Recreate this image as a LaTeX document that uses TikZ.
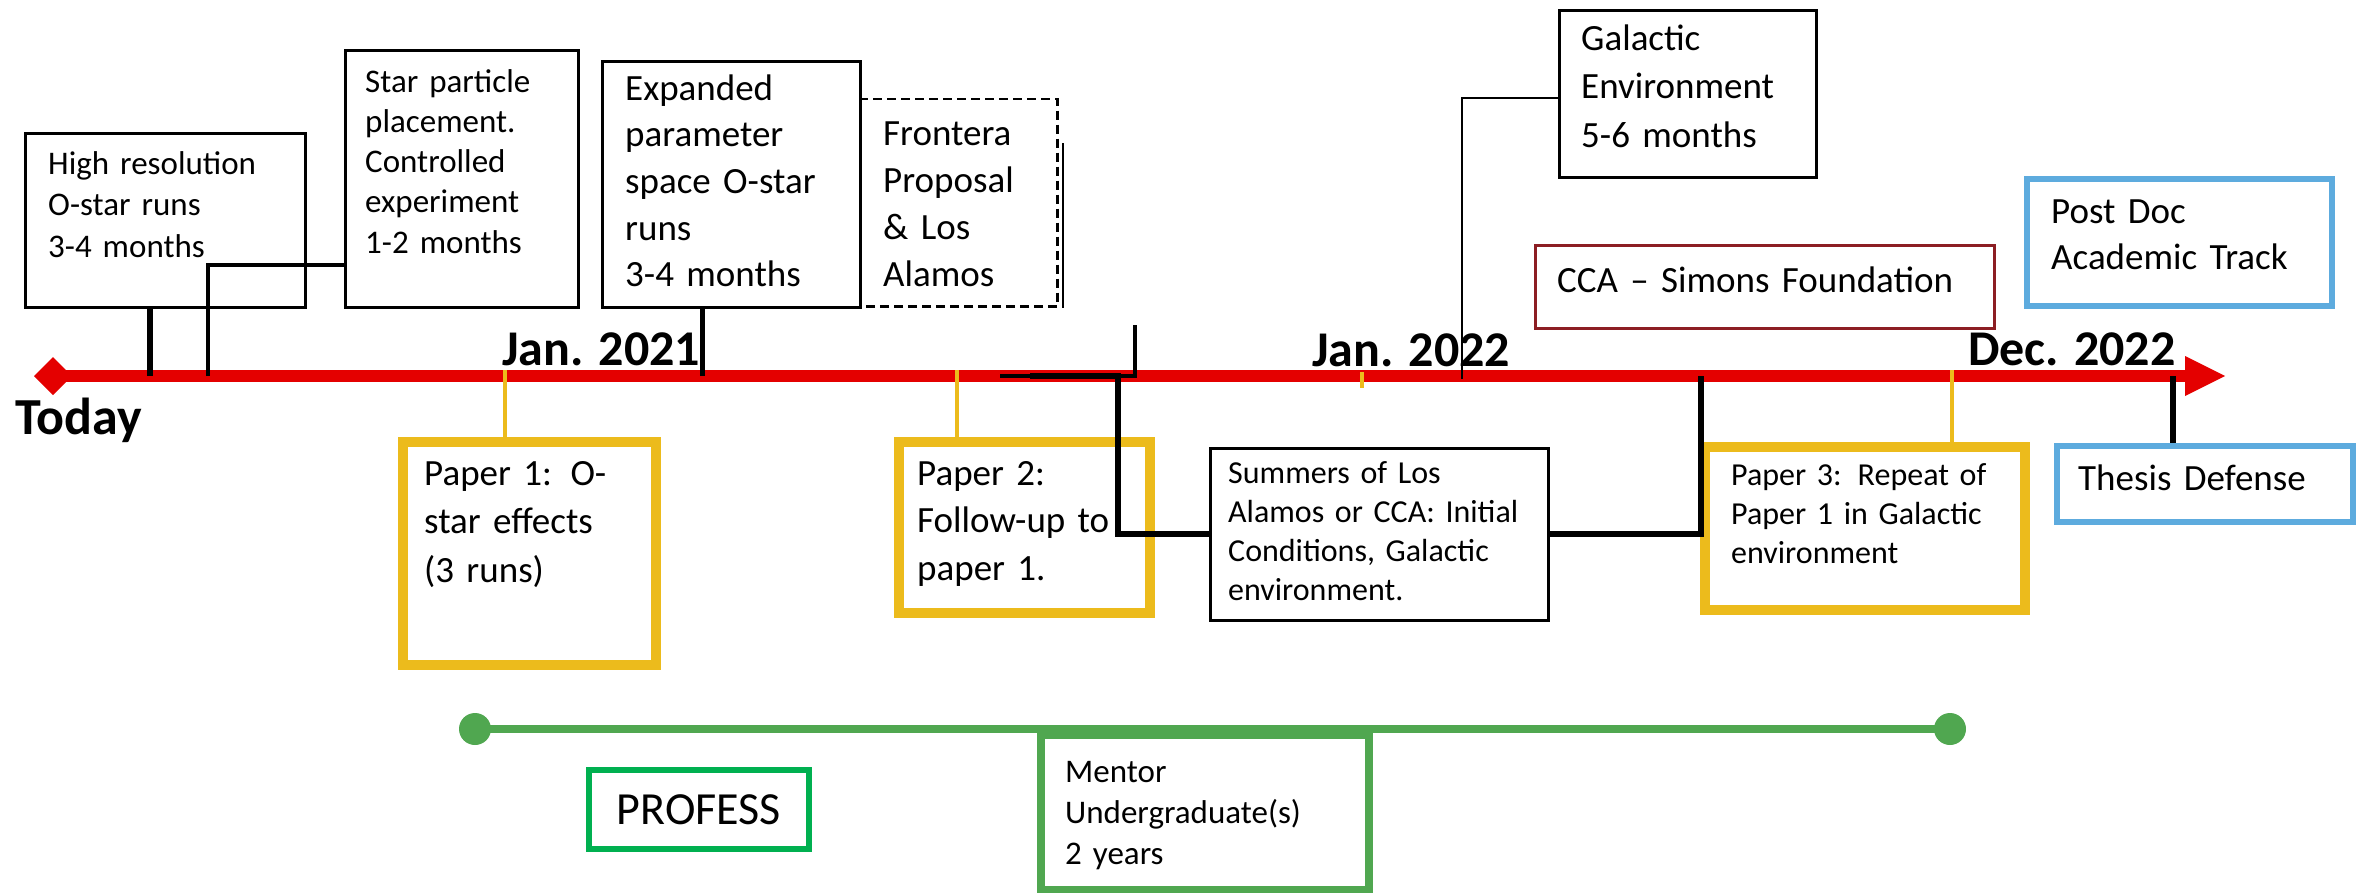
\documentclass[tikz,border=0pt]{standalone}
\usepackage{fontspec}
\setmainfont{Carlito}
\definecolor{tlred}{RGB}{228,0,0}
\definecolor{gold}{RGB}{236,187,28}
\definecolor{mgreen}{RGB}{80,167,80}
\definecolor{pgreen}{RGB}{0,176,80}
\definecolor{sky}{RGB}{93,171,222}
\definecolor{ccared}{RGB}{140,30,35}
\begin{document}
\begin{tikzpicture}[x=1pt,y=-1pt,
  frame/.style={draw=black,line width=2.5pt,anchor=north west,inner sep=0pt},
  goldbox/.style={draw=gold,line width=10pt,anchor=north west,inner sep=0pt},
  skybox/.style={draw=sky,line width=6pt,anchor=north west,inner sep=0pt},
  txt/.style={anchor=base west,inner sep=0pt,align=left,text width=420pt,text=black},
  conn/.style={draw=black,line width=5pt},
  gconn/.style={draw=gold,line width=4pt},
  datelbl/.style={anchor=base west,inner sep=0pt,font=\bfseries\fontsize{50}{60}\selectfont}]
\useasboundingbox (0,0) rectangle (2359,892);

% ---------- timeline ----------
\coordinate (start) at (53,376);
\coordinate (tip) at (2225,376);
\draw[tlred,line width=12pt] (start) -- (2188,376);
\fill[tlred] (2185,356) -- (tip) -- (2185,396) -- cycle;
\fill[tlred] (34,376) -- (53,357) -- (72,376) -- (53,395) -- cycle;

% ---------- boxes ----------
\node[frame,minimum width=280pt,minimum height=174pt] (b1) at (24,132) {};
\node[frame,minimum width=233pt,minimum height=257pt] (b2) at (344,49) {};
\node[frame,minimum width=258pt,minimum height=246pt] (b3) at (601,60) {};
\node[anchor=north west,inner sep=0pt,minimum width=198pt,minimum height=207pt] (b4) at (859,99) {};
\draw[black,line width=2.5pt,dash pattern=on 9pt off 5pt] (b4.north west) -- (b4.north east) -- (b4.south east) -- (b4.south west);
\node[frame,minimum width=257pt,minimum height=167pt] (bg) at (1558,9) {};
\node[frame,draw=ccared,minimum width=459pt,minimum height=83pt] (bc) at (1534,244) {};
\node[skybox,minimum width=305pt,minimum height=127pt] (bpd) at (2024,176) {};
\node[skybox,minimum width=296pt,minimum height=76pt] (bt) at (2054,443) {};
\node[frame,line width=3pt,minimum width=338pt,minimum height=172pt] (bs) at (1208.5,446.5) {};
\node[goldbox,minimum width=253pt,minimum height=223pt] (bp1) at (398,437) {};
\node[goldbox,minimum width=251pt,minimum height=171pt] (bp2) at (894,437) {};
\node[goldbox,minimum width=320pt,minimum height=163pt] (bp3) at (1700,442) {};

% ---------- green bar ----------
\coordinate (gl) at (475,729);
\coordinate (gr) at (1950,729);
\node[draw=mgreen,line width=8pt,anchor=north west,inner sep=0pt,minimum width=328pt,minimum height=155pt] (bm) at (1037,731) {};
\draw[mgreen,line width=8pt] (gl) -- (gr);
\fill[mgreen] (gl) circle[radius=16pt];
\fill[mgreen] (gr) circle[radius=16pt];
\node[draw=pgreen,line width=6pt,inner sep=0pt,minimum width=220pt,minimum height=79pt,font=\fontsize{46}{55}\selectfont] (bpr) at (699,809.5) {PROFESS};

% ---------- connectors ----------
\coordinate (m1) at (150,376);
\coordinate (m2) at (208,376);
\coordinate (k2) at (344,265);
\coordinate (m3) at (702,376);
\coordinate (f1) at (1000,376);
\coordinate (f2) at (1135,325);
\coordinate (s1) at (1030,376);
\coordinate (sv) at (1118,376);
\coordinate (sr) at (1701,376);
\coordinate (g1) at (1462,379);
\coordinate (gk) at (1558,98);
\coordinate (th) at (2173,376);
\coordinate (fx1) at (1063,143);
\coordinate (fx2) at (1063,308);

\draw[conn,line width=6pt] (m1) -- (m1 |- b1.south);
\draw[conn,line width=4pt] (m2) |- (k2);
\draw[conn] (m3) -- (m3 |- b3.south);
\draw[conn,line width=4pt] (f1) -| (f2);
\draw[black,line width=1.5pt] (fx1) -- (fx2);
\draw[conn,line width=6pt] (s1) -- (sv) |- (bs.west);
\draw[conn,line width=6pt] (bs.east) -| (sr);
\draw[black,line width=2.5pt] (g1) |- (gk);
\draw[conn,line width=6pt] (th) -- (th |- bt.north);

\coordinate (y1) at (505,370);
\coordinate (y2) at (957,370);
\coordinate (y3) at (1952,370);
\coordinate (y4) at (1362,372);
\coordinate (y4b) at (1362,388);
\draw[gconn] (y1) -- (y1 |- bp1.north);
\draw[gconn] (y2) -- (y2 |- bp2.north);
\draw[gconn] (y3) -- (y3 |- bp3.north);
\draw[gconn] (y4) -- (y4b);

% ---------- labels ----------
\node[anchor=base west,inner sep=0pt,font=\bfseries\fontsize{52}{62}\selectfont] (today) at (15,434) {Today};
\node[datelbl] (j21) at (502,365) {Jan. 2021};
\node[datelbl] (j22) at (1312,366) {Jan. 2022};
\node[datelbl] (d22) at (1968,365) {Dec. 2022};

\node[txt,font=\fontsize{33}{41.5}\selectfont] (t1) at (48,174) {High resolution\\O-star runs\\3-4 months};
\node[txt,font=\fontsize{33}{40.3}\selectfont] (t2) at (365,92) {Star particle\\placement.\\Controlled\\experiment\\1-2 months};
\node[txt,font=\fontsize{37}{46.7}\selectfont] (t3) at (625,100) {Expanded\\parameter\\space O-star\\runs\\3-4 months};
\node[txt,font=\fontsize{37}{47.3}\selectfont] (t4) at (883,145) {Frontera\\Proposal\\\& Los\\Alamos};
\node[txt,font=\fontsize{37}{48.5}\selectfont] (tg) at (1581,50) {Galactic\\Environment\\5-6 months};
\node[txt,font=\fontsize{37}{46}\selectfont] (tc) at (1557,292) {CCA – Simons Foundation};
\node[txt,font=\fontsize{37}{46}\selectfont] (tpd) at (2051,223) {Post Doc\\Academic Track};
\node[txt,font=\fontsize{37}{46}\selectfont] (tt) at (2078,490) {Thesis Defense};
\node[txt,font=\fontsize{32}{39}\selectfont] (ts) at (1228,483) {Summers of Los\\Alamos or CCA: Initial\\Conditions, Galactic\\environment.};
\node[txt,font=\fontsize{37}{48.5}\selectfont] (tp1) at (424,485) {Paper 1: O-\\star effects\\(3 runs)};
\node[txt,font=\fontsize{37}{47.5}\selectfont] (tp2) at (917,485) {Paper 2:\\Follow-up to\\paper 1.};
\node[txt,font=\fontsize{32}{39}\selectfont] (tp3) at (1731,485) {Paper 3: Repeat of\\Paper 1 in Galactic\\environment};
\node[txt,font=\fontsize{33}{41}\selectfont] (tm) at (1065,782) {Mentor\\Undergraduate(s)\\2 years};
\end{tikzpicture}
\end{document}
